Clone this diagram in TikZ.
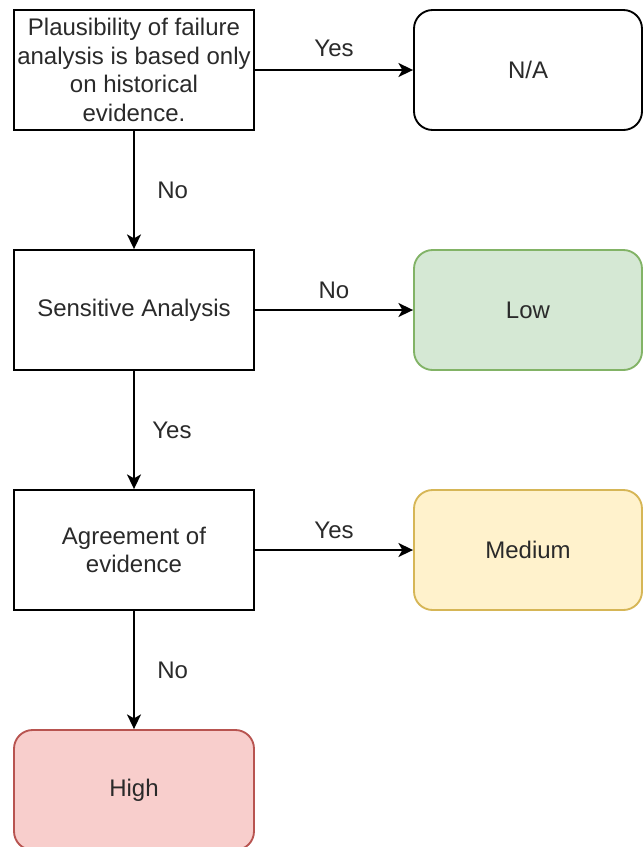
\documentclass[tikz,border=0pt]{standalone}
\usepackage{fontspec}
\setmainfont{Liberation Sans}
\usetikzlibrary{arrows.meta,positioning}
\definecolor{txt}{HTML}{2A2A2A}
\definecolor{gfill}{HTML}{D5E8D4}\definecolor{gline}{HTML}{82B366}
\definecolor{yfill}{HTML}{FFF2CC}\definecolor{yline}{HTML}{D6B656}
\definecolor{rfill}{HTML}{F8CECC}\definecolor{rline}{HTML}{B85450}
\tikzset{
  base/.style={draw, line width=1.4pt, inner sep=0pt, align=center, text=txt,
    font=\fontsize{18}{21.4}\selectfont, minimum height=90pt},
  sqbox/.style={base, minimum width=180pt, fill=white},
  rbox/.style={base, rounded corners=14pt, minimum width=171pt},
  arr/.style={draw, line width=1.4pt, -{Stealth[length=11pt,width=10.5pt,inset=3pt]}},
  lbl/.style={text=txt, font=\fontsize{18}{21.4}\selectfont, inner sep=0pt}
}
\begin{document}
\begin{tikzpicture}[x=0.75pt,y=-0.75pt]
\clip (0,0) rectangle (643,847);
\fill[white] (0,0) rectangle (643,847);
\node[sqbox] (q1) at (134,70) {Plausibility of failure\\analysis is based only\\on historical\\evidence.};
\node[rbox, fill=white] (na) at (528,70) {N/A};
\node[sqbox] (q2) at (134,310) {Sensitive Analysis};
\node[rbox, fill=gfill, draw=gline] (low) at (528,310) {Low};
\node[sqbox] (q3) at (134,550) {Agreement of\\evidence};
\node[rbox, fill=yfill, draw=yline] (med) at (528,550) {Medium};
\node[rbox, fill=rfill, draw=rline, minimum width=180pt] (high) at (134,790) {High};
\draw[arr] (q1) -- node[lbl, midway, yshift=16pt] {Yes} (na);
\draw[arr] (q1) -- node[lbl, midway, xshift=29pt] {No} (q2);
\draw[arr] (q2) -- node[lbl, midway, yshift=15pt] {No} (low);
\draw[arr] (q2) -- node[lbl, midway, xshift=28.5pt] {Yes} (q3);
\draw[arr] (q3) -- node[lbl, midway, yshift=15pt] {Yes} (med);
\draw[arr] (q3) -- node[lbl, midway, xshift=29pt] {No} (high);
\end{tikzpicture}
\end{document}
